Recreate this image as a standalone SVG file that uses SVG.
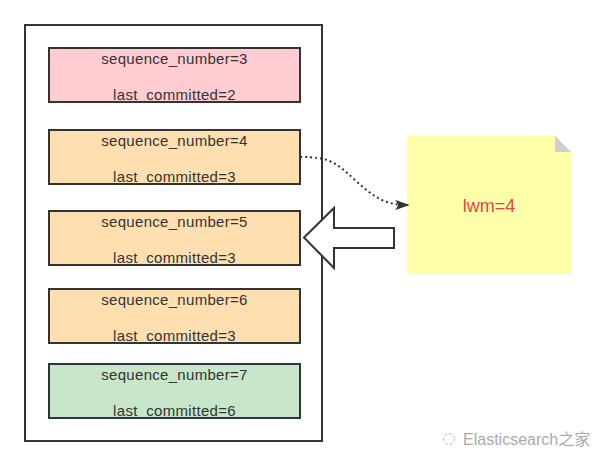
<svg xmlns="http://www.w3.org/2000/svg" width="596" height="466" viewBox="0 0 596 466">
<style>
.box{stroke:#333;stroke-width:2}
.t{font-family:"Liberation Sans",Arial,sans-serif;font-size:15px;letter-spacing:0.3px;fill:#333;text-anchor:middle}
</style>
<defs>
<marker id="ah" viewBox="0 0 10 10" refX="9" refY="5" markerWidth="14" markerHeight="10" markerUnits="userSpaceOnUse" orient="auto" preserveAspectRatio="none">
<path d="M0,0 L10,5 L0,10 L2,5 Z" fill="#333"/>
</marker>
</defs>
<rect width="596" height="466" fill="#fff"/>
<g id="container"><rect x="25" y="25" width="297" height="416" fill="#fff" stroke="#333" stroke-width="2"/></g>
<g id="n3"><rect class="box" x="49" y="48" width="251" height="54" fill="#ffccd1"/>
<text class="t" x="174.5" y="64">sequence_number=3</text><text class="t" x="174.5" y="100">last_committed=2</text></g>
<g id="n4"><rect class="box" x="49" y="130" width="251" height="54" fill="#ffdfb0"/>
<text class="t" x="174.5" y="146">sequence_number=4</text><text class="t" x="174.5" y="182">last_committed=3</text></g>
<g id="n5"><rect class="box" x="49" y="211" width="251" height="54" fill="#ffdfb0"/>
<text class="t" x="174.5" y="227">sequence_number=5</text><text class="t" x="174.5" y="263">last_committed=3</text></g>
<g id="n6"><rect class="box" x="49" y="289" width="251" height="54" fill="#ffdfb0"/>
<text class="t" x="174.5" y="305">sequence_number=6</text><text class="t" x="174.5" y="341">last_committed=3</text></g>
<g id="n7"><rect class="box" x="49" y="364" width="251" height="54" fill="#c8e6c9"/>
<text class="t" x="174.5" y="380">sequence_number=7</text><text class="t" x="174.5" y="416">last_committed=6</text></g>
<g id="note">
<path d="M407,136 L555,136 L571,152 L571,274 L407,274 Z" fill="#ffffaa"/>
<path d="M555,136 L571,152 L555,152 Z" fill="#cfcfcf"/>
<text x="489" y="212" font-family="Liberation Sans,Arial,sans-serif" font-size="18" fill="#ee3f3f" text-anchor="middle">lwm=4</text>
</g>
<g id="connectors">
<path d="M300,157 C330,157 335,162 355,180 C375,198 385,205 408,205" fill="none" stroke="#333" stroke-width="2" stroke-dasharray="2,3" marker-end="url(#ah)"/>
<path d="M394,228 L334,228 L334,208 L304,237.5 L334,268 L334,248 L394,248 Z" fill="#fff" stroke="#333" stroke-width="2" stroke-linejoin="miter"/>
</g>
<g id="watermark">
<circle cx="449" cy="439" r="5.5" fill="none" stroke="#bbb" stroke-width="1" stroke-dasharray="3,2"/>
<text x="463" y="445" font-family="Liberation Sans,Arial,'Noto Sans CJK SC',sans-serif" font-size="16" fill="#aaa">Elasticsearch之家</text>
</g>
</svg>
